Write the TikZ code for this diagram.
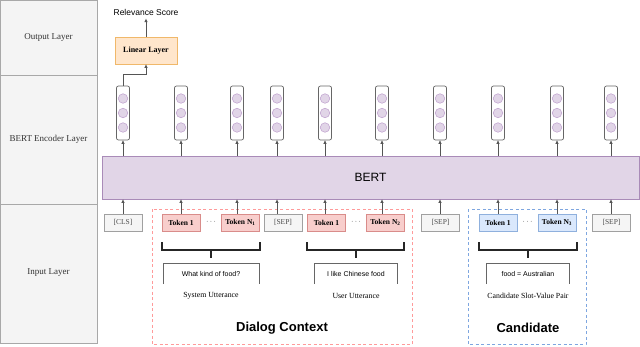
\documentclass[tikz,border=0pt]{standalone}
\usepackage{fontspec}
\setmainfont{Liberation Serif}
\setsansfont{Liberation Sans}
\usetikzlibrary{arrows.meta}
\definecolor{panelfill}{HTML}{F4F4F4}
\definecolor{panelline}{HTML}{A8A8A8}
\definecolor{purfill}{HTML}{E1D5E7}
\definecolor{purline}{HTML}{A98BB8}
\definecolor{circline}{HTML}{C4A8D2}
\definecolor{orfill}{HTML}{FFE6CC}
\definecolor{orline}{HTML}{F0B86A}
\definecolor{redfill}{HTML}{F8CECC}
\definecolor{redline}{HTML}{D98C8A}
\definecolor{bluefill}{HTML}{DAE8FC}
\definecolor{blueline}{HTML}{8FB0DD}
\definecolor{dashred}{HTML}{FF9A9A}
\definecolor{dashblue}{HTML}{7EA6E0}
\definecolor{grayfill}{HTML}{F5F5F5}
\definecolor{grayline}{HTML}{A0A0A0}
\definecolor{arrline}{HTML}{555555}
\tikzset{
  panel/.style={draw=panelline, fill=panelfill, line width=0.8pt},
  paneltext/.style={font=\fontsize{9}{11}\selectfont, text=black!80},
  vecbox/.style={draw=black!60, fill=white, rounded corners=2pt, minimum width=13pt, minimum height=54pt, inner sep=0pt, line width=0.7pt},
  veccirc/.style={circle, draw=circline, fill=purfill, minimum size=9.5pt, inner sep=0pt, line width=0.6pt},
  arr/.style={draw=arrline, line width=0.7pt, -{Triangle[length=3.5pt,width=3pt]}},
  tokbase/.style={minimum height=17pt, minimum width=38pt, inner sep=0pt, line width=0.7pt, font=\fontsize{7.5}{9}\selectfont},
  tokred/.style={tokbase, draw=redline, fill=redfill},
  tokblue/.style={tokbase, draw=blueline, fill=bluefill},
  tokgray/.style={tokbase, draw=grayline, fill=grayfill, text=black!70},
  brack/.style={draw=black!85, line width=1.1pt},
  uttbox/.style={draw=black!60, line width=0.7pt},
  utttext/.style={font=\sffamily\fontsize{7}{8}\selectfont},
  captext/.style={font=\fontsize{7.8}{9}\selectfont},
  grouptext/.style={font=\sffamily\bfseries\fontsize{13}{15}\selectfont},
  dots/.style={font=\fontsize{7}{8}\selectfont}
}
\begin{document}
\begin{tikzpicture}[x=1pt,y=-1pt]
\useasboundingbox (0,0) rectangle (640,346);
% left panel
\draw[panel] (0.5,0.5) rectangle (97,75);
\draw[panel] (0.5,75) rectangle (97,204);
\draw[panel] (0.5,204) rectangle (97,343);
\node[paneltext] (lout) at (48.5,37) {Output Layer};
\node[paneltext] (lenc) at (48.5,139) {BERT Encoder Layer};
\node[paneltext] (linp) at (48.5,273) {Input Layer};

% BERT
\node[draw=purline, fill=purfill, line width=0.8pt, minimum width=537pt, minimum height=43pt, inner sep=0pt, font=\sffamily\fontsize{12}{14}\selectfont] (bert) at (370.5,177.5) {BERT};

% vectors
\foreach \i/\x in {1/123,2/181,3/237,4/277,5/325,6/382,7/440,8/498,9/557,10/611}{
  \node[vecbox] (v\i) at (\x,113) {};
  \node[veccirc] (c\i a) at (\x,98.5) {};
  \node[veccirc] (c\i b) at (\x,113) {};
  \node[veccirc] (c\i c) at (\x,127.5) {};
  \draw[arr] (v\i |- bert.north) -- (v\i.south);
}

% linear layer
\node[draw=orline, fill=orfill, line width=0.8pt, minimum width=62pt, minimum height=27pt, inner sep=0pt, font=\bfseries\fontsize{8}{9}\selectfont] (lin) at (146,50.5) {Linear Layer};
\node[font=\sffamily\fontsize{8.5}{10}\selectfont] (rel) at (146,12) {Relevance Score};
\draw[arr] (v1.north) -- ++(0,-11) -| (lin.south);
\draw[arr] (lin.north) -- (rel.south);

% dashed groups
\draw[dashred, line width=1pt, dash pattern=on 3pt off 2.5pt] (152,209) rectangle (412,344.5);
\draw[dashblue, line width=1pt, dash pattern=on 3pt off 2.5pt] (468,209) rectangle (586,344.5);

% tokens
\node[tokgray] (cls) at (123,222.5) {[CLS]};
\node[tokred] (t1) at (181,222.5) {\textbf{Token 1}};
\node[dots] (d1) at (211,222) {$\cdots$};
\node[tokred] (n1) at (240.5,222.5) {\textbf{Token N\textsubscript{1}}};
\node[tokgray] (s1) at (283,222.5) {[SEP]};
\node[tokred] (t2) at (326.5,222.5) {\textbf{Token 1}};
\node[dots] (d2) at (356,222) {$\cdots$};
\node[tokred] (n2) at (385.5,222.5) {\textbf{Token N\textsubscript{2}}};
\node[tokgray] (s2) at (440.5,222.5) {[SEP]};
\node[tokblue] (t3) at (498,222.5) {\textbf{Token 1}};
\node[dots] (d3) at (527.5,222) {$\cdots$};
\node[tokblue] (n3) at (557,222.5) {\textbf{Token N\textsubscript{3}}};
\node[tokgray] (s3) at (611.5,222.5) {[SEP]};

\foreach \t/\v in {cls/v1,t1/v2,n1/v3,s1/v4,t2/v5,n2/v6,s2/v7,t3/v8,n3/v9,s3/v10}{
  \draw[arr] (\v |- \t.north) -- (\v |- bert.south);
}

% brackets and utterances
\draw[brack] (162,242) -- (162,250) -- (260,250) -- (260,242);
\draw[brack] (211,250) -- (211,257.5);
\draw[uttbox] (163,284) -- (163,263.5) -- (259,263.5) -- (259,284);
\node[utttext] (u1) at (211,273.5) {What kind of food?};
\node[captext] (c1) at (211,296) {System Utterance};

\draw[brack] (307,242) -- (307,250) -- (404,250) -- (404,242);
\draw[brack] (356,250) -- (356,257.5);
\draw[uttbox] (314,284) -- (314,263.5) -- (397,263.5) -- (397,284);
\node[utttext] (u2) at (356,273.5) {I like Chinese food};
\node[captext] (c2) at (356,296) {User Utterance};

\draw[brack] (479,242) -- (479,250) -- (577,250) -- (577,242);
\draw[brack] (528,250) -- (528,257.5);
\draw[uttbox] (486,284) -- (486,263.5) -- (569,263.5) -- (569,284);
\node[utttext] (u3) at (528,273.5) {food = Australian};
\node[captext] (c3) at (528,296) {Candidate Slot-Value Pair};

\node[grouptext] (g1) at (282,328) {Dialog Context};
\node[grouptext] (g2) at (528,328) {Candidate};
\end{tikzpicture}
\end{document}
